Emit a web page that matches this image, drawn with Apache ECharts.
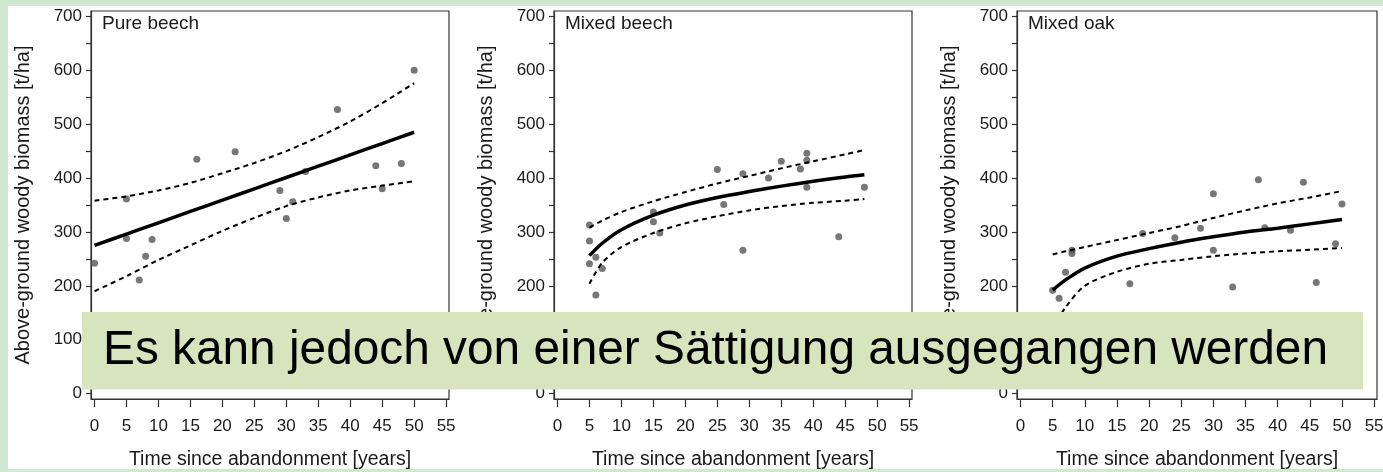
<!DOCTYPE html>
<html>
<head>
<meta charset="utf-8">
<script src="https://cdn.jsdelivr.net/npm/echarts@6/dist/echarts.min.js"></script>
<style>
  html, body { margin: 0; padding: 0; width: 1383px; height: 472px; overflow: hidden; }
  body { background: #cfe8cf; position: relative; }
  #paper { position: absolute; left: 8px; top: 6px; width: 1375px; height: 463px; background: #ffffff; }
  #chart { position: absolute; left: 0; top: 0; width: 1383px; height: 472px; }
</style>
</head>
<body>
<div id="paper"></div>
<div id="chart"></div>
<script>
// ---------- data ----------
const xTicks = [0, 5, 10, 15, 20, 25, 30, 35, 40, 45, 50, 55];
const yLabels = [0, 100, 200, 300, 400, 500, 600, 700];
const yTicks = [0, 50, 100, 150, 200, 250, 300, 350, 400, 450, 500, 550, 600, 650, 700];

const panelTitles = ['Pure beech', 'Mixed beech', 'Mixed oak'];
const xTitle = 'Time since abandonment [years]';
const yTitle = 'Above-ground woody biomass [t/ha]';
const caption = 'Es kann jedoch von einer Sättigung ausgegangen werden';

// Pure beech
const pureX = [0, 5, 5, 7, 8, 9, 16, 22, 29, 30, 31, 33, 38, 44, 45, 48, 50];
const pureY = [242, 361, 288, 211, 255, 286, 435, 449, 377, 325, 356, 412, 527, 423, 380, 427, 600];
const pureCurveX = [0, 5, 10, 15, 20, 25, 30, 35, 40, 45, 50];
const pureFit = [275, 296, 317, 338, 359, 380, 401, 422, 443, 464, 485];
const pureUpper = [358, 366, 377, 391, 409, 428, 450, 476, 505, 539, 576];
const pureLower = [190, 218, 248, 275, 302, 326, 348, 364, 377, 386, 394];

// Mixed beech
const mbX = [5, 5, 5, 6, 6, 7, 15, 15, 16, 25, 26, 29, 29, 33, 35, 38, 39, 39, 39, 44, 48];
const mbY = [313, 283, 241, 253, 183, 232, 337, 319, 298, 416, 351, 408, 266, 400, 431, 417, 446, 433, 383, 291, 383];
const mbCurveX = [5, 7, 10, 15, 20, 25, 30, 35, 40, 45, 48];
const mbFit = [256, 279, 304, 331, 350, 364, 375, 385, 394, 402, 406];
const mbUpper = [308, 321, 337, 357, 374, 390, 404, 418, 431, 444, 452];
const mbLower = [204, 243, 272, 298, 316, 329, 340, 348, 354, 358, 361];

// Mixed oak
const moX = [5, 6, 7, 8, 8, 17, 19, 24, 28, 30, 30, 33, 37, 38, 42, 44, 46, 49, 50];
const moY = [192, 177, 225, 266, 260, 204, 297, 289, 307, 371, 266, 198, 397, 308, 303, 392, 206, 278, 352];
const moCurveX = [5, 7, 10, 15, 20, 25, 30, 35, 40, 45, 50];
const moFit = [192, 211, 233, 255, 269, 281, 291, 300, 307, 315, 323];
const moUpper = [258, 264, 272, 285, 298, 311, 326, 340, 353, 364, 376];
const moLower = [120, 160, 200, 226, 241, 248, 255, 260, 264, 267, 270];

// ---------- layout ----------
const FONT = '"Liberation Sans", Arial, Helvetica, sans-serif';
const TXT = '#1a1a1a';
const AX = '#333333';
const layout = [
  { left: 91, width: 358 },
  { left: 554, width: 358 },
  { left: 1017, width: 360 }
];
const gridTop = 11, gridHeight = 388;

const panelData = [
  { px: pureX, py: pureY, cx: pureCurveX, fit: pureFit, up: pureUpper, lo: pureLower },
  { px: mbX, py: mbY, cx: mbCurveX, fit: mbFit, up: mbUpper, lo: mbLower },
  { px: moX, py: moY, cx: moCurveX, fit: moFit, up: moUpper, lo: moLower }
];

const zip = (a, b) => a.map((v, i) => [v, b[i]]);

const grids = [], xAxes = [], yAxes = [], series = [], titles = [];
layout.forEach((L, i) => {
  grids.push({
    left: L.left, top: gridTop, width: L.width, height: gridHeight,
    outerBoundsMode: 'none', containLabel: false,
    show: true, borderColor: AX, borderWidth: 1.2, backgroundColor: 'transparent'
  });
  xAxes.push({
    gridIndex: i, type: 'value', min: -0.55, max: 55.45,
    axisLine: { show: true, onZero: false, lineStyle: { color: AX, width: 1.2 } },
    axisTick: { show: true, inside: false, length: 8, customValues: xTicks, lineStyle: { color: AX, width: 1.2 } },
    axisLabel: { customValues: xTicks, margin: 19, fontSize: 17, color: TXT, fontFamily: FONT },
    splitLine: { show: false },
    name: xTitle, nameLocation: 'middle', nameGap: 51,
    nameTextStyle: { fontSize: 19.5, color: TXT, fontFamily: FONT }
  });
  yAxes.push({
    gridIndex: i, type: 'value', min: -10, max: 710,
    axisLine: { show: true, onZero: false, lineStyle: { color: AX, width: 1.2 } },
    axisTick: { show: true, inside: false, length: 5, customValues: yTicks, lineStyle: { color: AX, width: 1.2 } },
    axisLabel: { customValues: yLabels, margin: 9, fontSize: 17, color: TXT, fontFamily: FONT },
    splitLine: { show: false },
    name: yTitle, nameLocation: 'middle', nameGap: 58,
    nameTextStyle: { fontSize: 20, color: TXT, fontFamily: FONT }
  });
  titles.push({
    text: panelTitles[i], left: L.left + 11, top: 14, padding: 0,
    textStyle: { fontSize: 19, fontWeight: 'normal', color: TXT, fontFamily: FONT }
  });
  const D = panelData[i];
  series.push({
    type: 'scatter', xAxisIndex: i, yAxisIndex: i, data: zip(D.px, D.py),
    symbol: 'circle', symbolSize: 7, itemStyle: { color: '#555555' }, z: 2, silent: true
  });
  series.push({
    type: 'line', xAxisIndex: i, yAxisIndex: i, data: zip(D.cx, D.fit),
    symbol: 'none', smooth: 0.3, lineStyle: { color: '#000', width: 3.5 }, z: 3, silent: true
  });
  series.push({
    type: 'line', xAxisIndex: i, yAxisIndex: i, data: zip(D.cx, D.up),
    symbol: 'none', smooth: 0.3, lineStyle: { color: '#000', width: 2, type: [5, 4] }, z: 3, silent: true
  });
  series.push({
    type: 'line', xAxisIndex: i, yAxisIndex: i, data: zip(D.cx, D.lo),
    symbol: 'none', smooth: 0.3, lineStyle: { color: '#000', width: 2, type: [5, 4] }, z: 3, silent: true
  });
});

const chart = echarts.init(document.getElementById('chart'), null, { renderer: 'canvas' });
chart.setOption({
  backgroundColor: 'transparent',
  animation: false,
  title: titles,
  grid: grids,
  xAxis: xAxes,
  yAxis: yAxes,
  series: series,
  graphic: [
    { type: 'rect', z: 100, shape: { x: 82, y: 312, width: 1281, height: 77.5 }, style: { fill: '#d7e4bd' } },
    { type: 'text', z: 101, x: 103, y: 351,
      style: { text: caption, fill: '#000', font: '47.8px ' + FONT, verticalAlign: 'middle', align: 'left' } }
  ]
});
</script>
</body>
</html>
